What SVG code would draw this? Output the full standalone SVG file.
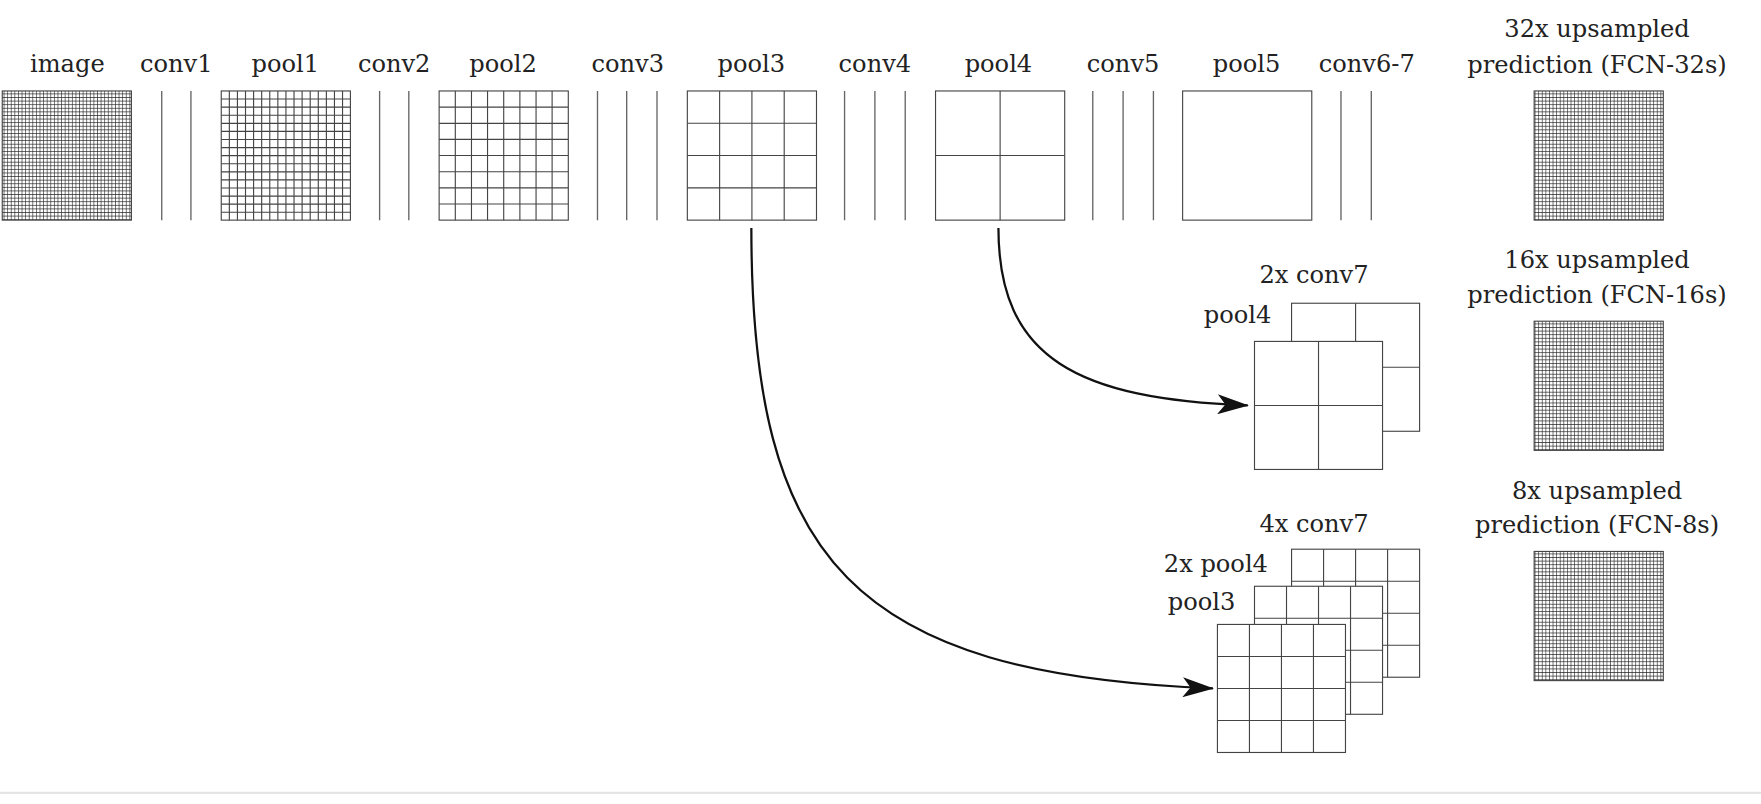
<svg xmlns="http://www.w3.org/2000/svg" width="1761" height="804" viewBox="0 0 1761 804">
<style>
text{font-family:"DejaVu Serif","Liberation Serif",serif;font-size:21.5px;fill:#222}
.m{text-anchor:middle}.e{text-anchor:end}
.b{fill:#fff;stroke:#444;stroke-width:1}
.g{stroke:#444;stroke-width:1;fill:none}
.c{stroke:#666;stroke-width:1.2}
.f{fill:url(#fine);stroke:#444;stroke-width:1}
.a{fill:none;stroke:#111;stroke-width:2}
</style>
<defs>
<pattern id="fine" patternUnits="userSpaceOnUse" x="0" y="0" width="3.2" height="3.2">
<rect width="3.2" height="3.2" fill="#fff"/>
<path d="M0 0H3.2M0 0V3.2" stroke="#222" stroke-width="1.1"/>
</pattern>
<marker id="ar" viewBox="0 0 28 18" refX="27" refY="9" markerWidth="28" markerHeight="18" markerUnits="userSpaceOnUse" orient="auto">
<path d="M0 0L28 9L0 18L7 9Z" fill="#111"/>
</marker>
</defs>
<g transform="scale(1.1231)">
<rect x="0" y="705" width="1568" height="2" fill="#e4e4e4"/>
<g id="labels">
<text class="m" x="60" y="64">image</text>
<text class="m" x="157" y="64">conv1</text>
<text class="m" x="254" y="64">pool1</text>
<text class="m" x="351" y="64">conv2</text>
<text class="m" x="448" y="64">pool2</text>
<text class="m" x="559" y="64">conv3</text>
<text class="m" x="669" y="64">pool3</text>
<text class="m" x="779" y="64">conv4</text>
<text class="m" x="889" y="64">pool4</text>
<text class="m" x="1000" y="64">conv5</text>
<text class="m" x="1110" y="64">pool5</text>
<text class="m" x="1217" y="64">conv6-7</text>
</g>
<g id="image"><rect class="f" x="2" y="81" width="115" height="115"/></g>
<g id="conv1"><path class="c" d="M144 81V196M170 81V196"/></g>
<g id="pool1"><rect class="b" x="197" y="81" width="115" height="115"/>
<path class="g" d="M204.2 81V196M211.4 81V196M218.6 81V196M225.8 81V196M233 81V196M240.2 81V196M247.4 81V196M254.6 81V196M261.8 81V196M269 81V196M276.2 81V196M283.4 81V196M290.6 81V196M297.8 81V196M305 81V196M197 88.2H312M197 95.4H312M197 102.6H312M197 109.8H312M197 117H312M197 124.2H312M197 131.4H312M197 138.6H312M197 145.8H312M197 153H312M197 160.2H312M197 167.4H312M197 174.6H312M197 181.8H312M197 189H312"/></g>
<g id="conv2"><path class="c" d="M338 81V196M364 81V196"/></g>
<g id="pool2"><rect class="b" x="391" y="81" width="115" height="115"/>
<path class="g" d="M405.4 81V196M419.8 81V196M434.1 81V196M448.5 81V196M462.9 81V196M477.3 81V196M491.6 81V196M391 95.4H506M391 109.8H506M391 124.1H506M391 138.5H506M391 152.9H506M391 167.3H506M391 181.6H506"/></g>
<g id="conv3"><path class="c" d="M532 81V196M558 81V196M585 81V196"/></g>
<g id="pool3"><rect class="b" x="612" y="81" width="115" height="115"/>
<path class="g" d="M640.75 81V196M669.5 81V196M698.25 81V196M612 109.75H727M612 138.5H727M612 167.25H727"/></g>
<g id="conv4"><path class="c" d="M752 81V196M779 81V196M806 81V196"/></g>
<g id="pool4"><rect class="b" x="833" y="81" width="115" height="115"/>
<path class="g" d="M890.5 81V196M833 138.5H948"/></g>
<g id="conv5"><path class="c" d="M973 81V196M1000 81V196M1027 81V196"/></g>
<g id="pool5"><rect class="b" x="1053" y="81" width="115" height="115"/></g>
<g id="conv6-7"><path class="c" d="M1194 81V196M1221 81V196"/></g>

<g id="out32"><text class="m" x="1422" y="33">32x upsampled</text><text class="m" x="1422" y="65">prediction (FCN-32s)</text>
<rect class="f" x="1366" y="81" width="115" height="115"/></g>
<g id="out16"><text class="m" x="1422" y="239">16x upsampled</text><text class="m" x="1422" y="270">prediction (FCN-16s)</text>
<rect class="f" x="1366" y="286" width="115" height="115"/></g>
<g id="out8"><text class="m" x="1422" y="444">8x upsampled</text><text class="m" x="1422" y="475">prediction (FCN-8s)</text>
<rect class="f" x="1366" y="491" width="115" height="115"/></g>

<g id="fuse16">
<text class="m" x="1170" y="252">2x conv7</text>
<text class="e" x="1132" y="288">pool4</text>
<rect class="b" x="1150" y="270" width="114" height="114"/><path class="g" d="M1207 270V384M1150 327H1264"/>
<rect class="b" x="1117" y="304" width="114" height="114"/><path class="g" d="M1174 304V418M1117 361H1231"/>
</g>
<g id="fuse8">
<text class="m" x="1170" y="474">4x conv7</text>
<text class="e" x="1129" y="509">2x pool4</text>
<text class="e" x="1100" y="543">pool3</text>
<rect class="b" x="1150" y="489" width="114" height="114"/><path class="g" d="M1178.5 489V603M1207 489V603M1235.5 489V603M1150 517.5H1264M1150 546H1264M1150 574.5H1264"/>
<rect class="b" x="1117" y="522" width="114" height="114"/><path class="g" d="M1145.5 522V636M1174 522V636M1202.5 522V636M1117 550.5H1231M1117 579H1231M1117 607.5H1231"/>
<rect class="b" x="1084" y="556" width="114" height="114"/><path class="g" d="M1112.5 556V670M1141 556V670M1169.5 556V670M1084 584.5H1198M1084 613H1198M1084 641.5H1198"/>
</g>
<g id="connectors">
<path class="a" marker-end="url(#ar)" d="M889 203C889 320 960 355 1111 361"/>
<path class="a" marker-end="url(#ar)" d="M669 203C669 500 760 600 1080 613"/>
</g>
</g>
</svg>
